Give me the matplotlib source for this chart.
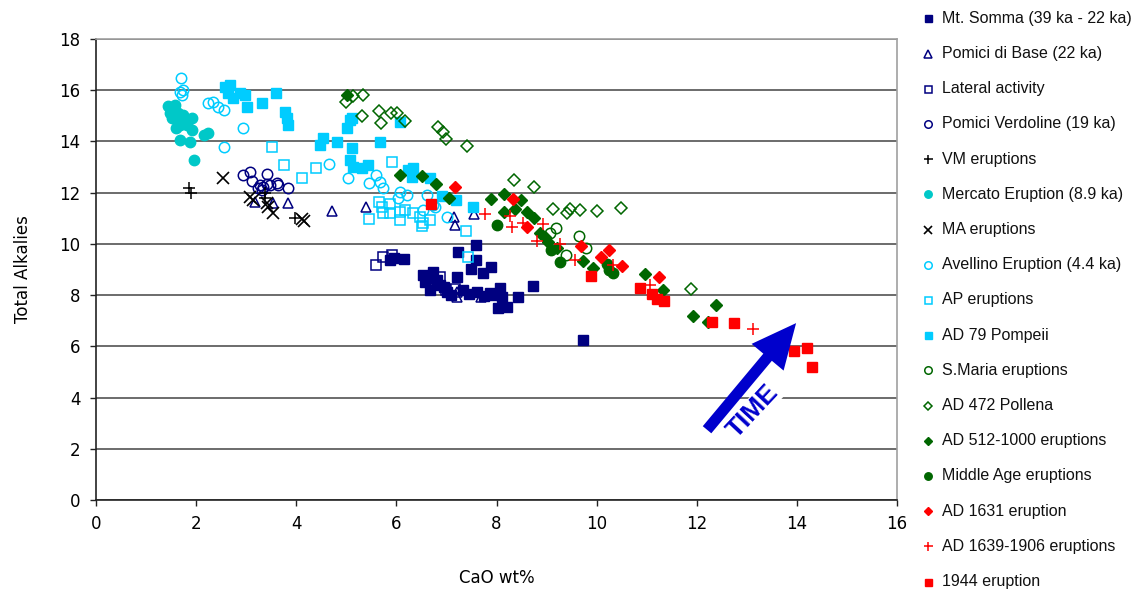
"""Vesuvius: CaO wt% vs total alkalies, one series per eruption group."""
import matplotlib
matplotlib.use("Agg")
import matplotlib.pyplot as plt
from matplotlib.lines import Line2D

NAVY = "#000080"
TEAL = "#00C8C8"
CYAN = "#00CCFF"
GREEN = "#006600"
RED = "#FF0000"
BLACK = "#000000"

# --- data (CaO wt%, total alkalies) ---
somma_cao = [7.60, 7.23, 7.59, 7.50, 7.90, 7.73, 6.15, 5.87, 7.21, 8.73, 6.53, 6.73, 6.87, 6.67,
             7.01, 6.57, 6.81, 7.33, 7.61, 7.87, 8.07, 8.11, 8.43, 8.03, 8.21, 9.73, 6.95, 7.45,
             7.75, 5.95, 6.65, 7.10, 7.95]
somma_alk = [9.96, 9.70, 9.37, 9.02, 9.11, 8.88, 9.41, 9.37, 8.71, 8.36, 8.79, 8.90, 8.40, 8.20,
             8.12, 8.51, 8.59, 8.20, 8.12, 8.08, 8.28, 7.93, 7.93, 7.50, 7.54, 6.25, 8.30, 8.05,
             7.95, 9.45, 8.65, 8.00, 8.00]

base_cao = [3.18, 3.54, 3.84, 4.71, 5.39, 7.15, 7.17, 7.55, 7.21, 7.21, 7.70]
base_alk = [11.64, 11.60, 11.58, 11.28, 11.44, 11.05, 10.74, 11.17, 8.12, 7.93, 7.94]

lateral_cao = [5.59, 5.73, 5.91, 6.67, 6.87, 6.99, 7.17]
lateral_alk = [9.18, 9.49, 9.57, 8.59, 8.71, 8.20, 8.24]

verdoline_cao = [2.94, 3.08, 3.42, 3.12, 3.28, 3.34, 3.48, 3.64, 3.84, 3.24, 3.32, 3.42, 3.62]
verdoline_alk = [12.69, 12.82, 12.73, 12.46, 12.30, 12.22, 12.30, 12.30, 12.18, 12.18, 12.10,
                 12.34, 12.38]

vm_cao = [1.86, 1.90, 3.38, 3.38, 3.98]
vm_alk = [12.18, 11.99, 11.99, 11.79, 11.01]

mercato_cao = [1.44, 1.58, 1.48, 1.64, 1.74, 1.92, 1.62, 1.74, 1.68, 1.82, 1.92, 1.68, 1.88,
               2.16, 2.24, 1.96, 1.52, 1.78, 1.60]
mercato_alk = [15.38, 15.42, 15.11, 15.11, 15.03, 14.92, 14.84, 14.76, 14.64, 14.64, 14.45,
               14.06, 13.98, 14.25, 14.33, 13.28, 14.92, 14.84, 14.53]

ma_cao = [2.53, 3.08, 3.14, 3.42, 3.54, 4.11, 4.15, 3.44]
ma_alk = [12.57, 11.83, 11.71, 11.60, 11.21, 10.97, 10.89, 11.44]

avellino_cao = [1.70, 1.68, 1.72, 1.74, 2.24, 2.34, 2.44, 2.56, 2.94, 2.56, 4.65, 5.03, 5.45,
                5.59, 5.67, 5.73, 6.07, 6.21, 6.03, 6.61, 6.77, 7.01, 6.73, 6.53]
avellino_alk = [16.48, 15.93, 15.81, 16.00, 15.50, 15.54, 15.35, 15.23, 14.53, 13.78, 13.12,
                12.57, 12.38, 12.69, 12.42, 12.18, 12.03, 11.91, 11.79, 11.91, 11.44, 11.05,
                11.52, 11.32]

ap_cao = [3.52, 3.76, 4.12, 4.39, 5.91, 5.45, 5.65, 5.71, 5.87, 5.73, 5.87, 6.07, 6.07, 6.17,
          6.33, 6.47, 6.53, 6.67, 6.51, 7.39, 7.43]
ap_alk = [13.78, 13.08, 12.57, 12.96, 13.20, 10.97, 11.64, 11.44, 11.56, 11.21, 11.21, 11.25,
          10.93, 11.32, 11.21, 11.05, 10.82, 10.93, 10.70, 10.50, 9.49]

pompeii_cao = [2.58, 2.68, 2.64, 2.74, 2.88, 2.98, 3.02, 3.60, 3.32, 3.78, 3.82, 3.84, 5.07,
               5.01, 4.53, 4.47, 4.81, 5.11, 5.07, 5.13, 5.31, 5.43, 5.67, 6.07, 6.23, 6.33,
               6.31, 6.67, 6.91, 7.19, 7.53, 5.11]
pompeii_alk = [16.13, 16.20, 15.89, 15.70, 15.89, 15.81, 15.35, 15.89, 15.50, 15.15, 14.92,
               14.64, 14.84, 14.53, 14.14, 13.86, 13.98, 13.74, 13.28, 13.00, 12.96, 13.08,
               13.98, 14.76, 12.89, 12.96, 12.61, 12.57, 11.87, 11.71, 11.44, 14.92]

smaria_cao = [9.19, 9.65, 9.79, 9.39, 9.07]
smaria_alk = [10.62, 10.31, 9.84, 9.57, 10.43]

pollena_cao = [4.99, 5.13, 5.33, 5.31, 5.65, 5.69, 5.89, 6.01, 6.17, 6.83, 6.93, 6.99, 7.41,
               8.35, 8.75, 9.13, 9.41, 9.47, 9.67, 10.01, 10.49, 11.88]
pollena_alk = [15.54, 15.77, 15.81, 14.99, 15.19, 14.72, 15.11, 15.11, 14.80, 14.57, 14.37,
               14.10, 13.82, 12.50, 12.22, 11.36, 11.21, 11.36, 11.32, 11.28, 11.40, 8.24]

ad512_cao = [5.01, 6.07, 6.51, 6.79, 7.05, 7.89, 8.15, 8.15, 8.37, 8.49, 8.61, 8.75, 8.87,
             8.97, 9.03, 9.21, 9.73, 9.93, 10.97, 11.33, 11.93, 12.39, 12.23]
ad512_alk = [15.81, 12.69, 12.65, 12.34, 11.79, 11.75, 11.95, 11.25, 11.36, 11.71, 11.25, 11.01,
             10.43, 10.27, 10.07, 9.84, 9.33, 9.06, 8.83, 8.20, 7.18, 7.61, 6.95]

middle_cao = [8.01, 9.09, 9.27, 10.21, 10.25, 10.33]
middle_alk = [10.74, 9.76, 9.29, 9.21, 8.98, 8.86]

ad1631_cao = [7.17, 8.33, 8.61, 9.69, 10.09, 10.25, 10.51, 11.25]
ad1631_alk = [12.22, 11.75, 10.66, 9.92, 9.49, 9.76, 9.14, 8.71]

ad1639_cao = [7.77, 8.27, 8.31, 8.53, 8.93, 8.81, 9.27, 9.57, 10.33, 11.07, 13.12]
ad1639_alk = [11.17, 11.09, 10.66, 10.82, 10.78, 10.11, 10.00, 9.37, 9.18, 8.40, 6.68]

e1944_cao = [6.69, 9.89, 10.87, 11.11, 11.21, 11.35, 12.31, 12.74, 13.94, 14.20, 14.30]
e1944_alk = [11.56, 8.75, 8.28, 8.04, 7.85, 7.77, 6.95, 6.91, 5.82, 5.94, 5.19]

labels = ["Mt. Somma (39 ka - 22 ka)", "Pomici di Base (22 ka)", "Lateral activity",
          "Pomici Verdoline (19 ka)", "VM eruptions", "Mercato Eruption (8.9 ka)",
          "MA eruptions", "Avellino Eruption (4.4 ka)", "AP eruptions", "AD 79 Pompeii",
          "S.Maria eruptions", "AD 472 Pollena", "AD 512-1000 eruptions",
          "Middle Age eruptions", "AD 1631 eruption", "AD 1639-1906 eruptions",
          "1944 eruption"]

series = [
    (somma_cao, somma_alk, dict(marker="s", ms=7, mfc=NAVY, mec=NAVY)),
    (base_cao, base_alk, dict(marker="^", ms=7.5, mfc="none", mec=NAVY, mew=1.1)),
    (lateral_cao, lateral_alk, dict(marker="s", ms=7, mfc="none", mec=NAVY, mew=1.1)),
    (verdoline_cao, verdoline_alk, dict(marker="o", ms=7.5, mfc="none", mec=NAVY, mew=1.1)),
    (vm_cao, vm_alk, dict(marker="+", ms=9, mec=BLACK, mew=1.1)),
    (mercato_cao, mercato_alk, dict(marker="o", ms=7.5, mfc=TEAL, mec=TEAL)),
    (ma_cao, ma_alk, dict(marker="x", ms=8, mec=BLACK, mew=1.2)),
    (avellino_cao, avellino_alk, dict(marker="o", ms=7.5, mfc="none", mec=CYAN, mew=1.1)),
    (ap_cao, ap_alk, dict(marker="s", ms=7, mfc="none", mec=CYAN, mew=1.1)),
    (pompeii_cao, pompeii_alk, dict(marker="s", ms=7, mfc=CYAN, mec=CYAN)),
    (smaria_cao, smaria_alk, dict(marker="o", ms=7.5, mfc="none", mec=GREEN, mew=1.1)),
    (pollena_cao, pollena_alk, dict(marker="D", ms=6, mfc="none", mec=GREEN, mew=1.1)),
    (ad512_cao, ad512_alk, dict(marker="D", ms=6, mfc=GREEN, mec=GREEN)),
    (middle_cao, middle_alk, dict(marker="o", ms=7.5, mfc=GREEN, mec=GREEN)),
    (ad1631_cao, ad1631_alk, dict(marker="D", ms=6, mfc=RED, mec=RED)),
    (ad1639_cao, ad1639_alk, dict(marker="+", ms=9, mec=RED, mew=1.1)),
    (e1944_cao, e1944_alk, dict(marker="s", ms=7, mfc=RED, mec=RED)),
]

fig = plt.figure(figsize=(11.37, 5.89), dpi=100, facecolor="white")
ax = fig.add_axes([96 / 1137, 89 / 589, 801 / 1137, 461 / 589])

for (xs, ys, st), lab in zip(series, labels):
    ax.plot(xs, ys, linestyle="none", label=lab, **st)

ax.set_xlim(0, 16)
ax.set_ylim(0, 18)
ax.set_xticks(range(0, 17, 2))
ax.set_yticks(range(0, 19, 2))
ax.set_axisbelow(True)
ax.grid(axis="y", color="#444444", lw=1.1)
ax.tick_params(length=4, width=1, pad=7, labelsize=12, color="#222222")
for s in ("top", "right"):
    ax.spines[s].set_color("#a0a0a0")
    ax.spines[s].set_linewidth(1.2)
for s in ("left", "bottom"):
    ax.spines[s].set_color("#222222")
    ax.spines[s].set_linewidth(1.2)
ax.set_xlabel("CaO wt%", fontsize=12, labelpad=26)
ax.set_ylabel("Total Alkalies", fontsize=12, labelpad=20)

# TIME arrow
ax.annotate("", xy=(14.02, 6.99), xytext=(12.17, 2.66),
            arrowprops=dict(arrowstyle="simple,head_length=1.6,head_width=1.5,tail_width=0.4",
                            mutation_scale=20, color="#0000CC", lw=0))
ax.text(13.12, 3.45, "TIME", rotation=47, ha="center", va="center", fontsize=19,
        fontweight="bold", color="#0000CC", family="Liberation Sans",
        bbox=dict(fc="white", ec="none", pad=0.2))

# legend, drawn row by row on the right
for i, ((xs, ys, st), lab) in enumerate(zip(series, labels)):
    yf = 1 - (18.3 + 35.2 * i) / 589
    small = dict(st)
    small["ms"] = st["ms"] * 0.72
    fig.add_artist(Line2D([927.5 / 1137], [yf], transform=fig.transFigure,
                          linestyle="none", **small))
    fig.text(942.5 / 1137, yf, lab, ha="left", va="center", fontsize=11.5,
             family="Liberation Sans", color="#111111")

fig.savefig("out.png", dpi=100)
